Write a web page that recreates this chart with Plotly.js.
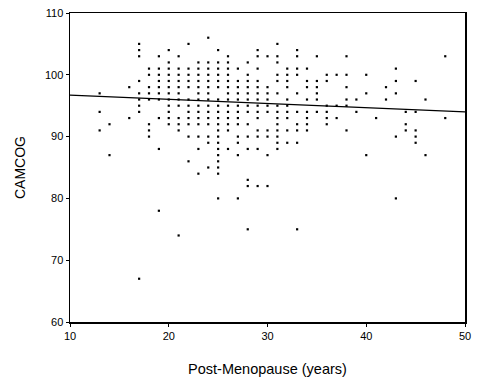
<!DOCTYPE html>
<html>
<head>
<meta charset="utf-8">
<script src="https://cdn.plot.ly/plotly-3.0.1.min.js"></script>
<style>html,body{margin:0;padding:0;background:#fff;}#chart{width:477px;height:383px;}</style>
</head>
<body>
<div id="chart"></div>
<script>
// CAMCOG score rows, each with the post-menopause years (x) of the points at that score
const scoreRows = [106,105,104,103,102,101,100,99,98,97,96,95,94,93,92,91,90,89,88,87,86,85,84,83,82,80,78,75,74,67];
const yearsAtScore = [
  [24],
  [17,22,31],
  [17,20,25,29,33],
  [17,19,21,26,29,30,31,33,35,38,48],
  [20,23,24,25,26,28,31],
  [18,19,20,21,22,23,24,25,26,27,29,32,33,34,43],
  [18,19,20,21,22,23,24,25,26,28,31,32,33,36,37,38,40],
  [17,19,20,21,22,23,24,25,26,27,28,29,31,32,34,35,36,43,45],
  [16,18,19,20,21,22,23,24,25,26,27,28,29,30,32,34,35,38,42],
  [13,17,18,19,20,21,23,24,26,27,28,29,30,31,33,35,40,43],
  [17,18,19,20,21,22,23,24,25,26,27,28,29,30,32,34,35,38,39,42,46],
  [17,20,21,22,23,24,25,26,27,28,29,30,31,32,36,37,38],
  [13,17,20,22,23,24,25,26,27,28,29,30,31,32,33,34,35,36,39,44,45],
  [16,19,20,21,22,23,24,25,26,27,29,31,32,34,36,37,41,48],
  [14,18,20,21,22,23,24,25,26,27,28,31,33,34,36,44],
  [13,18,21,25,26,29,30,31,32,33,34,38,44,45],
  [18,22,23,24,25,27,28,29,30,31,43,45],
  [24,25,27,31,32,33,45],
  [19,23,25,26,28,29,31],
  [14,25,27,30,40,46],
  [22,25],
  [24,25],
  [23,25],
  [28],
  [28,29,30],
  [25,27,43],
  [19],
  [28,33],
  [21],
  [17]
];
// Fitted regression line endpoints
const fitX = [10, 50];
const fitY = [96.7, 94.0];

const xTicks = [10,20,30,40,50];
const yTicks = [60,70,80,90,100,110];

const px = [], py = [];
scoreRows.forEach((s, i) => {
  yearsAtScore[i].forEach(yr => { px.push(yr); py.push(s); });
});

const font = {family: 'Arial, "Liberation Sans", sans-serif', color: '#000'};

const data = [
  {x: px, y: py, type: 'scatter', mode: 'markers',
   marker: {symbol: 'square', size: 2.2, color: '#000', line: {width: 0}},
   hoverinfo: 'x+y', showlegend: false},
  {x: fitX, y: fitY, type: 'scatter', mode: 'lines',
   line: {color: '#000', width: 1.2}, hoverinfo: 'skip', showlegend: false}
];

const layout = {
  width: 477, height: 383,
  margin: {l: 70, r: 12, t: 13, b: 61},
  paper_bgcolor: '#fff', plot_bgcolor: '#fff',
  font: Object.assign({size: 11}, font),
  showlegend: false,
  xaxis: {
    range: [10, 50], tickvals: xTicks, ticktext: xTicks.map(String),
    showgrid: false, zeroline: false,
    showline: true, mirror: true, linecolor: '#000', linewidth: 1.5,
    ticks: 'outside', ticklen: 3, tickwidth: 1, tickcolor: '#000',
    tickfont: Object.assign({size: 11}, font),
    title: {text: 'Post-Menopause (years)', font: Object.assign({size: 14.5}, font), standoff: 23}
  },
  yaxis: {
    range: [60, 110], tickvals: yTicks, ticktext: yTicks.map(String),
    showgrid: false, zeroline: false,
    showline: true, mirror: true, linecolor: '#000', linewidth: 1.5,
    ticks: 'outside', ticklen: 3, tickwidth: 1, tickcolor: '#000',
    tickfont: Object.assign({size: 11}, font),
    title: {text: 'CAMCOG', font: Object.assign({size: 14}, font), standoff: 16}
  }
};

Plotly.newPlot('chart', data, layout, {displayModeBar: false, staticPlot: true});
</script>
</body>
</html>
